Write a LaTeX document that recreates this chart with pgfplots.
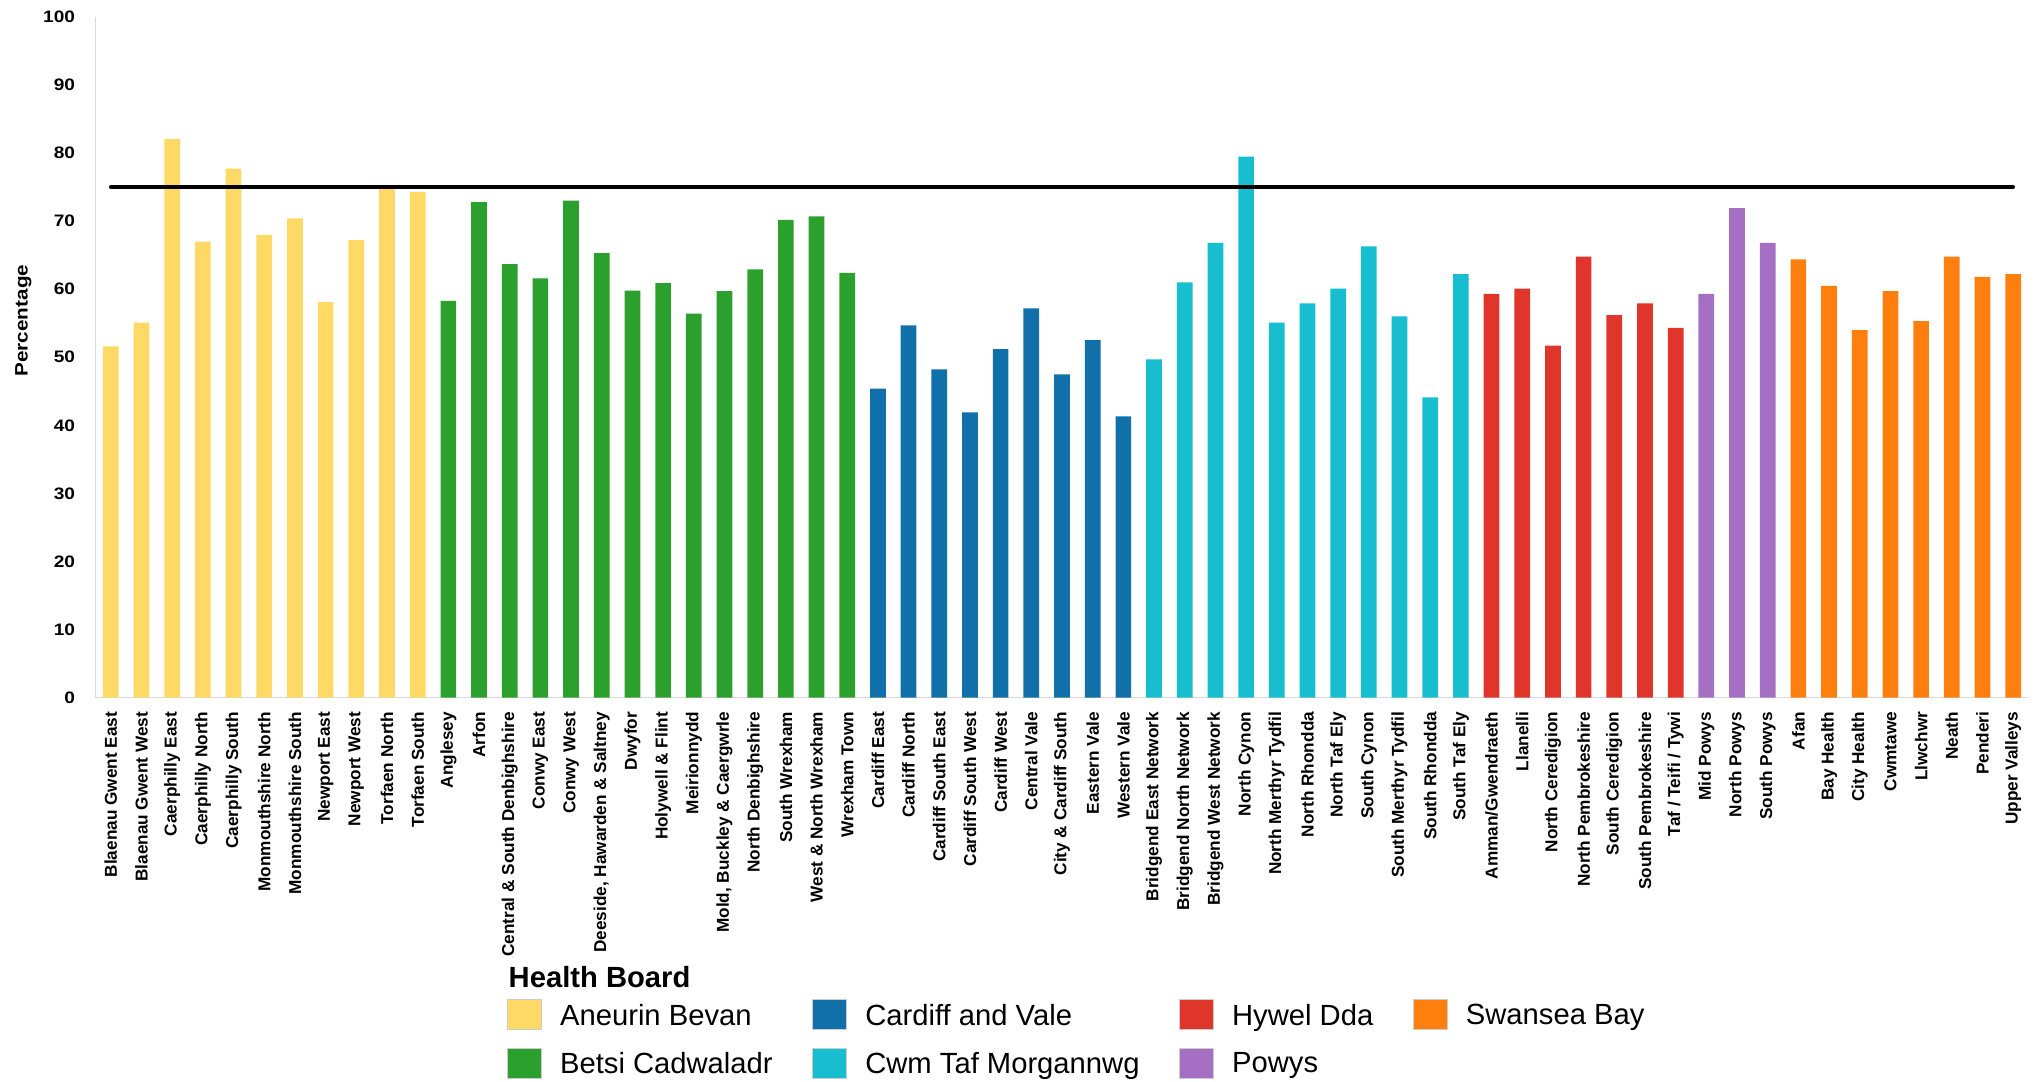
\documentclass[border=0pt]{standalone}
\usepackage{fontspec}
\setmainfont{Liberation Sans}
\newfontfamily\widefont{Liberation Sans}[FakeStretch=1.15]
\usepackage{pgfplots}
\pgfplotsset{compat=1.18}
\definecolor{cab}{HTML}{FFD966}
\definecolor{cbc}{HTML}{2CA02C}
\definecolor{ccv}{HTML}{1170AA}
\definecolor{cct}{HTML}{17BECF}
\definecolor{chd}{HTML}{E0352A}
\definecolor{cpo}{HTML}{A570C3}
\definecolor{csb}{HTML}{FF7F0E}
\begin{document}
\begin{tikzpicture}
\path[use as bounding box] (-47.75pt,-191.75pt) rectangle (974.25pt,348.75pt);
\begin{axis}[
  at={(0pt,0pt)}, anchor=south west,
  scale only axis, width=966.5pt, height=340.25pt,
  xmin=-0.5, xmax=62.5, ymin=0, ymax=100,
  axis x line*=bottom, axis y line*=left,
  axis line style={draw=black!15, line width=0.75pt},
  major tick length=0pt,
  ytick={0,10,...,100},
  /pgf/number format/assume math mode=true,
  yticklabel style={font=\widefont\bfseries\fontsize{8.3}{9}\selectfont, inner sep=0pt},
  yticklabel shift=10pt,
  xtick={0,...,62},
  xticklabels={Blaenau Gwent East, Blaenau Gwent West, Caerphilly East, Caerphilly North, Caerphilly South, Monmouthshire North, Monmouthshire South, Newport East, Newport West, Torfaen North, Torfaen South,
    Anglesey, Arfon, Central \& South Denbighshire, Conwy East, Conwy West, {Deeside, Hawarden \& Saltney}, Dwyfor, Holywell \& Flint, Meirionnydd, {Mold, Buckley \& Caergwrle}, North Denbighshire, South Wrexham, West \& North Wrexham, Wrexham Town,
    Cardiff East, Cardiff North, Cardiff South East, Cardiff South West, Cardiff West, Central Vale, City \& Cardiff South, Eastern Vale, Western Vale,
    Bridgend East Network, Bridgend North Network, Bridgend West Network, North Cynon, North Merthyr Tydfil, North Rhondda, North Taf Ely, South Cynon, South Merthyr Tydfil, South Rhondda, South Taf Ely,
    Amman/Gwendraeth, Llanelli, North Ceredigion, North Pembrokeshire, South Ceredigion, South Pembrokeshire, Taf / Teifi / Tywi,
    Mid Powys, North Powys, South Powys,
    Afan, Bay Health, City Health, Cwmtawe, Llwchwr, Neath, Penderi, Upper Valleys},
  xticklabel style={rotate=90, anchor=east, inner sep=0pt, font=\bfseries\fontsize{8.6}{10}\selectfont},
  xticklabel shift=7pt,
  ylabel={Percentage},
  every axis y label/.style={at={(axis description cs:-0.03735,0.55386)}, anchor=center, rotate=90, font=\widefont\bfseries\fontsize{9}{11}\selectfont},
  legend image code/.code={\fill[#1] (0pt,-6.8pt) rectangle (17pt,8.2pt);},
  legend style={draw=none, fill=none, inner sep=0pt, outer sep=0pt,
    at={(axis description cs:0.21272,-0.44350)}, anchor=north west,
    legend columns=4, row sep=8.7pt,
    nodes={inner sep=0pt, font=\fontsize{14.6}{17}\selectfont},
    /tikz/every odd column/.append style={column sep=9.3pt},
    /tikz/every even column/.append style={column sep=19.6pt}},
  legend cell align=left,
]
\addplot[ybar, bar width=7.85pt, bar shift=0pt, fill=cab, draw=none, forget plot] coordinates {
 (0,51.6) (1,55.1) (2,82.1) (3,67.0) (4,77.7) (5,68.0) (6,70.4) (7,58.1) (8,67.2) (9,75.1) (10,74.3)};
\addplot[ybar, bar width=7.85pt, bar shift=0pt, fill=cbc, draw=none, forget plot] coordinates {
 (11,58.3) (12,72.8) (13,63.7) (14,61.6) (15,73.0) (16,65.3) (17,59.8) (18,60.9) (19,56.4) (20,59.7) (21,62.9) (22,70.2) (23,70.7) (24,62.4)};
\addplot[ybar, bar width=7.85pt, bar shift=0pt, fill=ccv, draw=none, forget plot] coordinates {
 (25,45.4) (26,54.7) (27,48.2) (28,41.9) (29,51.2) (30,57.2) (31,47.5) (32,52.5) (33,41.3)};
\addplot[ybar, bar width=7.85pt, bar shift=0pt, fill=cct, draw=none, forget plot] coordinates {
 (34,49.7) (35,61.0) (36,66.8) (37,79.5) (38,55.1) (39,57.9) (40,60.1) (41,66.3) (42,56.0) (43,44.1) (44,62.2)};
\addplot[ybar, bar width=7.85pt, bar shift=0pt, fill=chd, draw=none, forget plot] coordinates {
 (45,59.3) (46,60.1) (47,51.7) (48,64.8) (49,56.2) (50,57.9) (51,54.3)};
\addplot[ybar, bar width=7.85pt, bar shift=0pt, fill=cpo, draw=none, forget plot] coordinates {
 (52,59.3) (53,71.9) (54,66.8)};
\addplot[ybar, bar width=7.85pt, bar shift=0pt, fill=csb, draw=none, forget plot] coordinates {
 (55,64.4) (56,60.5) (57,54.0) (58,59.7) (59,55.3) (60,64.8) (61,61.8) (62,62.2)};
\addplot[black, line width=1.85pt, line cap=round, forget plot] coordinates {(0,75) (62,75)};
\addlegendimage{fill=cab, draw=black!20, line width=0.4pt}
\addlegendentry{Aneurin Bevan}
\addlegendimage{fill=ccv, draw=black!20, line width=0.4pt}
\addlegendentry{Cardiff and Vale}
\addlegendimage{fill=chd, draw=black!20, line width=0.4pt}
\addlegendentry{Hywel Dda}
\addlegendimage{fill=csb, draw=black!20, line width=0.4pt}
\addlegendentry{Swansea Bay}
\addlegendimage{fill=cbc, draw=black!20, line width=0.4pt}
\addlegendentry{Betsi Cadwaladr}
\addlegendimage{fill=cct, draw=black!20, line width=0.4pt}
\addlegendentry{Cwm Taf Morgannwg}
\addlegendimage{fill=cpo, draw=black!20, line width=0.4pt}
\addlegendentry{Powys}
\end{axis}
\node[anchor=base west, inner sep=0pt, font=\bfseries\fontsize{14.6}{17}\selectfont] at (206.4pt,-144.9pt) {Health Board};
\end{tikzpicture}
\end{document}
